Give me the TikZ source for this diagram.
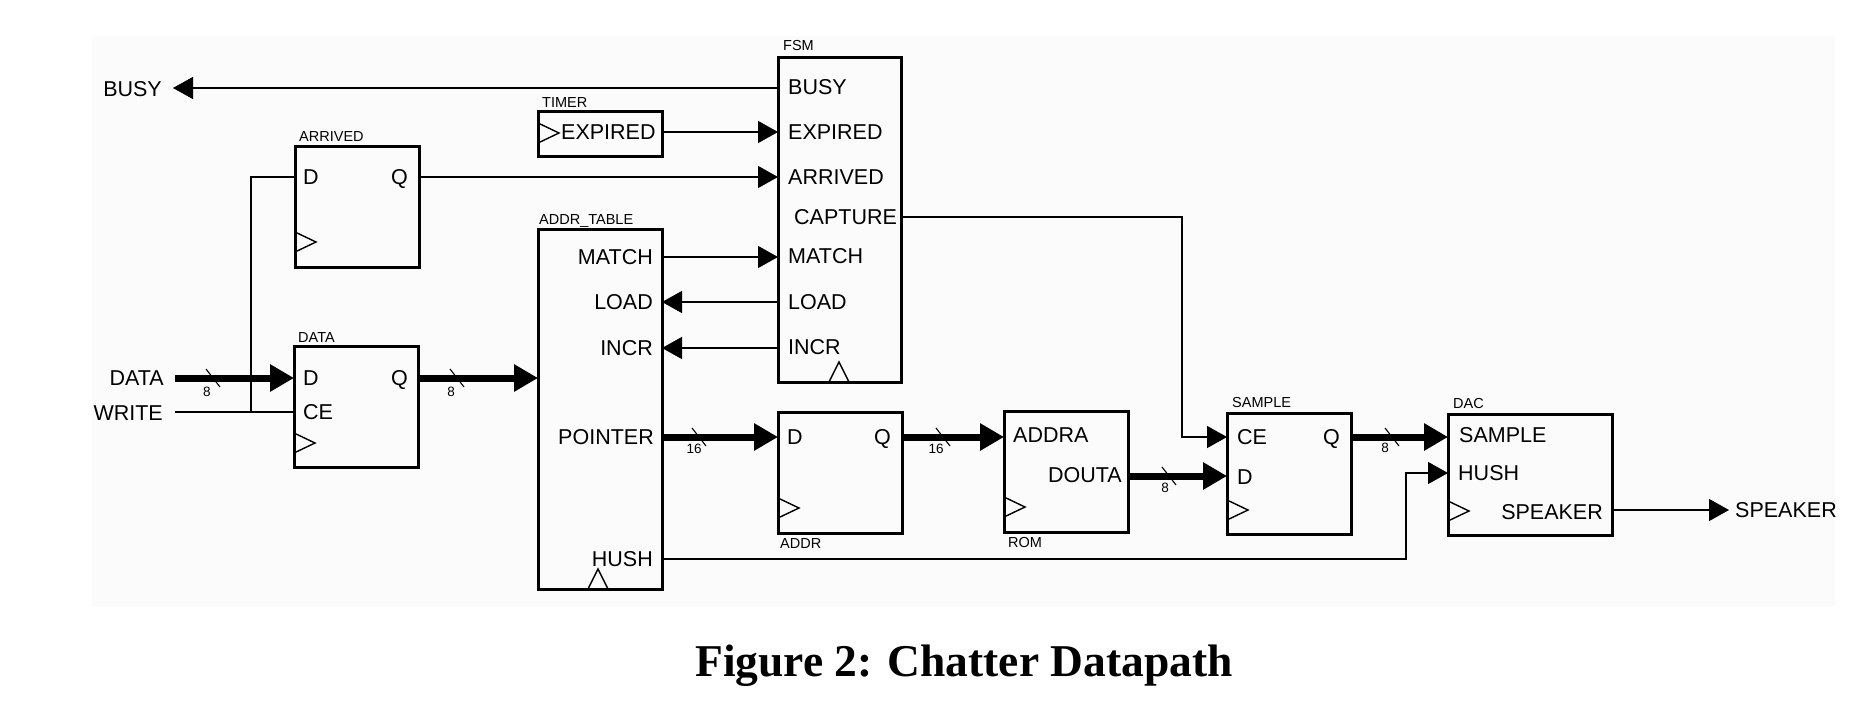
\documentclass[tikz,border=0pt]{standalone}
\usepackage{fontspec}
\setmainfont{Liberation Sans}
\newfontfamily\capfont{Liberation Serif}
\usetikzlibrary{arrows.meta}
\definecolor{bgc}{RGB}{251,251,251}
\begin{document}
\begin{tikzpicture}[x=1pt,y=-1pt,
  box/.style={draw, line width=3pt, inner sep=0pt, outer sep=0pt, anchor=north west},
  wire/.style={line width=1.4pt},
  bus/.style={line width=7pt},
  arr/.style={-{Triangle[length=20pt,width=22pt]}},
  busarr/.style={-{Triangle[length=24pt,width=26pt]}},
  port/.style={font=\fontsize{21.5}{24}\selectfont, inner sep=0pt, text height=15.4pt, text depth=0pt},
  lbl/.style={font=\fontsize{14.5}{16}\selectfont, inner sep=0pt, text height=10.4pt, text depth=0pt, anchor=west},
  wlbl/.style={font=\fontsize{13.5}{15}\selectfont, inner sep=0pt, text height=9.7pt, text depth=0pt},
  clk/.style={line width=1.4pt},
  slash/.style={line width=1.1pt}]
\useasboundingbox (0,0) rectangle (1870,704);
\fill[bgc] (92,36) rectangle (1835,607);

% ---------- boxes ----------
\node[box, minimum width=123pt, minimum height=325pt] (fsm) at (778,57) {};
\node[box, minimum width=124pt, minimum height=45pt] (timer) at (538,111) {};
\node[box, minimum width=124pt, minimum height=121pt] (arrived) at (295,146) {};
\node[box, minimum width=124pt, minimum height=121pt] (dataff) at (294,346) {};
\node[box, minimum width=124pt, minimum height=360pt] (addrtab) at (538,229) {};
\node[box, minimum width=124pt, minimum height=121pt] (addrff) at (778,412) {};
\node[box, minimum width=124pt, minimum height=121pt] (rom) at (1004,411) {};
\node[box, minimum width=124pt, minimum height=121pt] (sample) at (1227,413) {};
\node[box, minimum width=164pt, minimum height=121pt] (dac) at (1448,414) {};

% ---------- block names ----------
\node[lbl] (lfsm) at (783,45) {FSM};
\node[lbl] (ltimer) at (542,102) {TIMER};
\node[lbl] (larrived) at (299,136) {ARRIVED};
\node[lbl] (ldata) at (298,337) {DATA};
\node[lbl] (laddrtab) at (539,219) {ADDR\_TABLE};
\node[lbl] (laddr) at (780,543) {ADDR};
\node[lbl] (lrom) at (1008,542) {ROM};
\node[lbl] (lsample) at (1232,402) {SAMPLE};
\node[lbl] (ldac) at (1453,403) {DAC};

% ---------- clock triangles ----------
\draw[clk] (538,123) -- (559,133) -- (538,143);
\draw[clk] (295,232) -- (316,242) -- (295,252);
\draw[clk] (294,433) -- (315,443) -- (294,453);
\draw[clk] (778,498) -- (799,508) -- (778,518);
\draw[clk] (1004,497) -- (1025,507) -- (1004,517);
\draw[clk] (1227,500) -- (1248,510) -- (1227,520);
\draw[clk] (1448,501) -- (1469,511) -- (1448,521);
\draw[clk] (829,382) -- (839,362) -- (849,382);
\draw[clk] (588,589) -- (598,569) -- (608,589);

% ---------- port texts ----------
\node[port, anchor=west] (fBUSY) at (788,87) {BUSY};
\node[port, anchor=west] (fEXP) at (788,132) {EXPIRED};
\node[port, anchor=west] (fARR) at (788,177) {ARRIVED};
\node[port, anchor=west] (fCAP) at (794,217) {CAPTURE};
\node[port, anchor=west] (fMATCH) at (788,256) {MATCH};
\node[port, anchor=west] (fLOAD) at (788,302) {LOAD};
\node[port, anchor=west] (fINCR) at (788,347) {INCR};

\node[port, anchor=west] (tEXP) at (561,132) {EXPIRED};

\node[port, anchor=west] (aD) at (303,177) {D};
\node[port, anchor=east] (aQ) at (408,177) {Q};

\node[port, anchor=west] (dD) at (303,378) {D};
\node[port, anchor=west] (dCE) at (303,412) {CE};
\node[port, anchor=east] (dQ) at (408,378) {Q};

\node[port, anchor=east] (tMATCH) at (653,257) {MATCH};
\node[port, anchor=east] (tLOAD) at (653,302) {LOAD};
\node[port, anchor=east] (tINCR) at (653,348) {INCR};
\node[port, anchor=east] (tPTR) at (654,437) {POINTER};
\node[port, anchor=east] (tHUSH) at (653,559) {HUSH};

\node[port, anchor=west] (adD) at (787,437) {D};
\node[port, anchor=east] (adQ) at (891,437) {Q};

\node[port, anchor=west] (rADDRA) at (1013,435) {ADDRA};
\node[port, anchor=east] (rDOUTA) at (1122,475) {DOUTA};

\node[port, anchor=west] (sCE) at (1237,437) {CE};
\node[port, anchor=west] (sD) at (1237,477) {D};
\node[port, anchor=east] (sQ) at (1340,437) {Q};

\node[port, anchor=west] (dSAMPLE) at (1459,435) {SAMPLE};
\node[port, anchor=west] (dHUSH) at (1458,473) {HUSH};
\node[port, anchor=east] (dSPK) at (1603,512) {SPEAKER};

% ---------- external signals ----------
\node[port, anchor=east] (xBUSY) at (162,89) {BUSY};
\node[port, anchor=east] (xDATA) at (164,378) {DATA};
\node[port, anchor=east] (xWRITE) at (163,413) {WRITE};
\node[port, anchor=west] (xSPK) at (1735,510) {SPEAKER};

% ---------- connection points ----------
\coordinate (busyTip) at (173,88);
\coordinate (fsmBUSYp) at (778,88);
\coordinate (timerOut) at (662,132);
\coordinate (fsmEXPp) at (778,132);
\coordinate (arrQp) at (419,177);
\coordinate (fsmARRp) at (778,177);
\coordinate (arrDp) at (295,177);
\coordinate (jTop) at (251,177);
\coordinate (jBot) at (251,412);
\coordinate (writeSrc) at (175,412);
\coordinate (dataCEp) at (294,412);
\coordinate (dataSrc) at (175,378);
\coordinate (dataDp) at (294,378);
\coordinate (dataQp) at (418,378);
\coordinate (tabIn) at (538,378);
\coordinate (tabMATCHp) at (662,257);
\coordinate (fsmMATCHp) at (778,257);
\coordinate (tabLOADp) at (662,302);
\coordinate (fsmLOADp) at (778,302);
\coordinate (tabINCRp) at (662,348);
\coordinate (fsmINCRp) at (778,348);
\coordinate (tabPTRp) at (662,437);
\coordinate (addrDp) at (778,437);
\coordinate (addrQp) at (902,437);
\coordinate (romAp) at (1004,437);
\coordinate (romDp) at (1128,476);
\coordinate (smpDp) at (1227,476);
\coordinate (fsmCAPp) at (901,217);
\coordinate (capC1) at (1182,217);
\coordinate (capC2) at (1182,437);
\coordinate (smpCEp) at (1227,437);
\coordinate (smpQp) at (1351,437);
\coordinate (dacSp) at (1448,437);
\coordinate (tabHUSHp) at (662,559);
\coordinate (hushC1) at (1406,559);
\coordinate (hushC2) at (1406,473);
\coordinate (dacHp) at (1448,473);
\coordinate (dacSPKp) at (1612,510);
\coordinate (spkTip) at (1729,510);

% ---------- thin wires ----------
\draw[wire, arr] (fsmBUSYp) -- (busyTip);
\draw[wire, arr] (timerOut) -- (fsmEXPp);
\draw[wire, arr] (arrQp) -- (fsmARRp);
\draw[wire] (arrDp) -- (jTop) -- (jBot);
\draw[wire] (writeSrc) -- (dataCEp);
\draw[wire, arr] (tabMATCHp) -- (fsmMATCHp);
\draw[wire, arr] (fsmLOADp) -- (tabLOADp);
\draw[wire, arr] (fsmINCRp) -- (tabINCRp);
\draw[wire, arr] (fsmCAPp) -- (capC1) -- (capC2) -- (smpCEp);
\draw[wire, arr] (tabHUSHp) -- (hushC1) -- (hushC2) -- (dacHp);
\draw[wire, arr] (dacSPKp) -- (spkTip);

% ---------- buses ----------
\draw[bus, busarr] (dataSrc) -- (dataDp);
\draw[bus, busarr] (dataQp) -- (tabIn);
\draw[bus, busarr] (tabPTRp) -- (addrDp);
\draw[bus, busarr] (addrQp) -- (romAp);
\draw[bus, busarr] (romDp) -- (smpDp);
\draw[bus, busarr] (smpQp) -- (dacSp);

% ---------- bus width marks ----------
\draw[slash] (206,369) -- (220,387);
\draw[slash] (450,369) -- (464,387);
\draw[slash] (692,428) -- (706,446);
\draw[slash] (936,428) -- (950,446);
\draw[slash] (1162,467) -- (1176,485);
\draw[slash] (1385,428) -- (1399,446);
\node[wlbl] (w1) at (207,392) {8};
\node[wlbl] (w2) at (451,392) {8};
\node[wlbl] (w3) at (694,449) {16};
\node[wlbl] (w4) at (936,449) {16};
\node[wlbl] (w5) at (1165,488) {8};
\node[wlbl] (w6) at (1385,448) {8};

% ---------- caption ----------
\node[font=\capfont\bfseries\fontsize{45.5}{50}\selectfont, anchor=base, inner sep=0pt] (caption) at (964,676) {Figure 2: Chatter Datapath};
\end{tikzpicture}
\end{document}
